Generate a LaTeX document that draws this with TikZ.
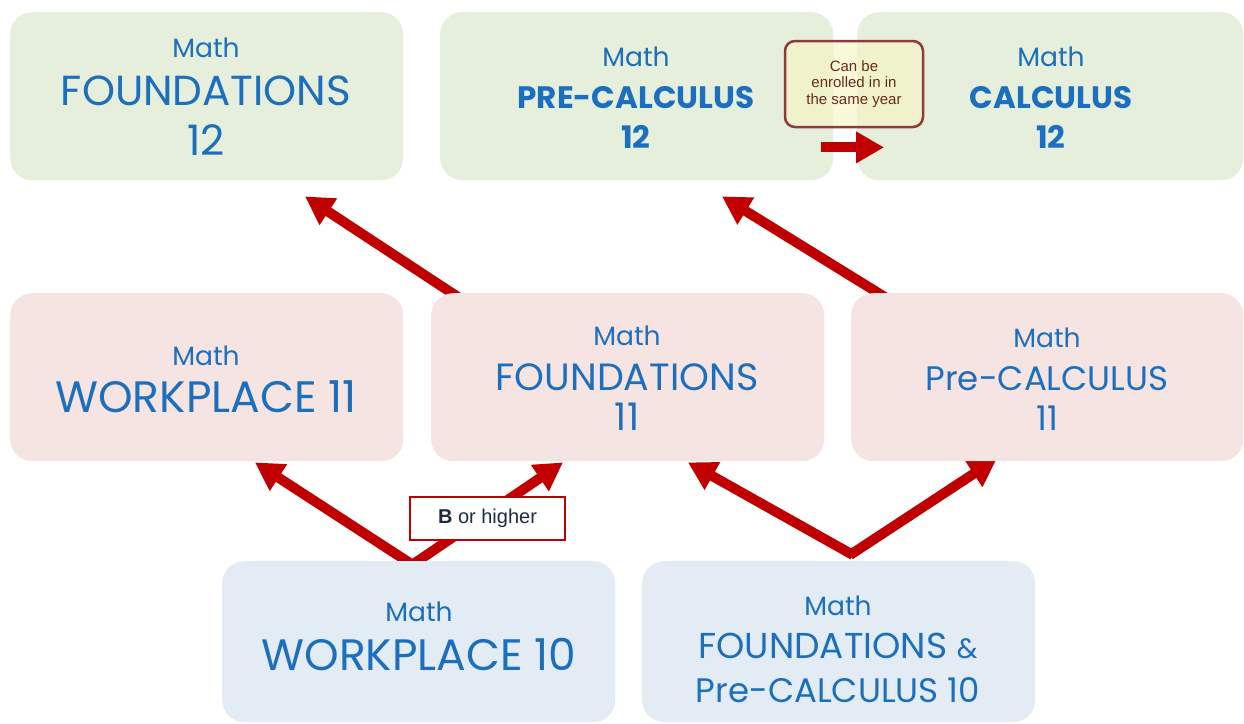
\documentclass[tikz,border=0pt]{standalone}
\usepackage{fontspec}
\setmainfont{Poppins}
\newfontfamily\arialf{Liberation Sans}
\usetikzlibrary{arrows.meta,calc}
\definecolor{gfill}{HTML}{E6EFDB}
\definecolor{pfill}{HTML}{F6E4E3}
\definecolor{bfill}{HTML}{E3ECF5}
\definecolor{mblue}{HTML}{1C6FBE}
\definecolor{ared}{HTML}{C00000}
\definecolor{cbord}{HTML}{8E3B3B}
\definecolor{ctext}{HTML}{6A2C1A}
\definecolor{cfill}{HTML}{F5F5C0}
\definecolor{navy}{HTML}{1F2A44}
\pgfdeclarelayer{bg}
\pgfsetlayers{bg,main}
\begin{document}
\begin{tikzpicture}[x=1pt,y=-1pt,
  box/.style={rectangle, rounded corners=22pt, draw=none, inner sep=0pt, anchor=north west, minimum width=393pt, minimum height=168pt},
  txt/.style={anchor=base, inner sep=0pt, text=mblue},
  small/.style={font=\fontsize{26.5}{26.5}\selectfont},
  big/.style={font=\fontsize{42}{42}\selectfont},
  wbig/.style={font=\fontsize{44}{44}\selectfont},
  mid/.style={font=\fontsize{38}{38}\selectfont},
  pre/.style={font=\fontsize{34}{34}\selectfont},
  bbig/.style={font=\fontsize{31}{31}\selectfont\bfseries},
  arr/.style={draw=ared, line width=10pt, -{Triangle[length=28pt,width=30pt]}}
]
\useasboundingbox (0,0) rectangle (1244,723);
% boxes
\node[box, fill=gfill] (F12) at (10,12) {};
\node[box, fill=gfill] (PC12) at (440,12) {};
\node[box, fill=gfill, minimum width=386pt] (C12) at (857,12) {};
\node[box, fill=pfill] (W11) at (10,293) {};
\node[box, fill=pfill] (F11) at (431,293) {};
\node[box, fill=pfill, minimum width=392pt] (PC11) at (851,293) {};
\node[box, fill=bfill, minimum height=161pt] (W10) at (222,561) {};
\node[box, fill=bfill, minimum height=161pt] (FP10) at (642,561) {};
% texts
\node[txt, small] (F12a) at (206,57) {Math};
\node[txt, big] (F12b) at (206,105) {FOUNDATIONS};
\node[txt, big] (F12c) at (206,155) {12};
\node[txt, small] (PC12a) at (636,66) {Math};
\node[txt, bbig] (PC12b) at (636,108) {PRE-CALCULUS};
\node[txt, bbig] (PC12c) at (636,148) {12};
\node[txt, small] (C12a) at (1051,66) {Math};
\node[txt, bbig] (C12b) at (1051,108) {CALCULUS};
\node[txt, bbig] (C12c) at (1051,148) {12};
\node[txt, small] (W11a) at (206,365) {Math};
\node[txt, wbig] (W11b) at (206,412) {WORKPLACE 11};
\node[txt, small] (F11a) at (627,345) {Math};
\node[txt, mid] (F11b) at (627,390) {FOUNDATIONS};
\node[txt, mid] (F11c) at (627,430) {11};
\node[txt, small] (PC11a) at (1047,347) {Math};
\node[txt, pre] (PC11b) at (1047,390) {Pre-CALCULUS};
\node[txt, pre] (PC11c) at (1047,430) {11};
\node[txt, small] (W10a) at (419,621) {Math};
\node[txt, wbig] (W10b) at (419,670) {WORKPLACE 10};
\node[txt, small] (FP10a) at (838,615) {Math};
\node[txt, pre] (FP10b) at (838,658) {\fontsize{36}{36}\selectfont FOUNDATIONS {\fontsize{28}{28}\selectfont\&}};
\node[txt, pre] (FP10c) at (838,702) {Pre-CALCULUS 10};
% arrows
\begin{pgfonlayer}{bg}
\fill[white] (0,0) rectangle (1244,723);
\draw[arr] ($(F11.north west)+(30,6)$) -- ($(F12.south west)+(295,16)$);
\draw[arr] ($(PC11.north west)+(37,6)$) -- ($(PC12.south west)+(282,16)$);
\draw[arr] ($(W10.north west)+(194,6)$) -- ($(W11.south west)+(245,1)$);
\draw[arr] ($(W10.north west)+(187,6)$) -- ($(F11.south west)+(132,1)$);
\draw[arr] ($(FP10.north west)+(211,-6)$) -- ($(F11.south west)+(257,1)$);
\draw[arr] ($(FP10.north west)+(208,-6)$) -- ($(PC11.south west)+(146,-3)$);
\end{pgfonlayer}
\draw[arr] ($(PC12.south east)+(-12,-33)$) -- ($(C12.south west)+(27,-33)$);
% labels
\node[draw=ared, line width=2pt, fill=white, minimum width=155pt, minimum height=43pt, inner sep=0pt,
      font=\arialf\fontsize{20}{20}\selectfont, text=navy] (BH) at (487.5,518.5) {\textbf{B} or higher};
\node[draw=cbord, line width=2.5pt, fill=cfill, fill opacity=0.6, text opacity=1, rounded corners=10pt,
      minimum width=138pt, minimum height=86pt, inner sep=0pt, align=center,
      font=\arialf\fontsize{15}{16.5}\selectfont, text=ctext] (CB) at (854,84) {Can be\\enrolled in in\\the same year};
\end{tikzpicture}
\end{document}
